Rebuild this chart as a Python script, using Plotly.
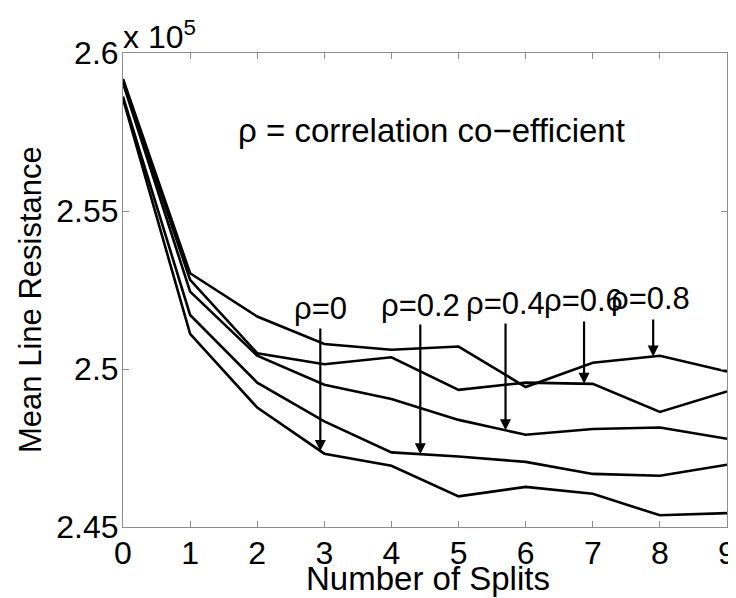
import numpy as np
import plotly.graph_objects as go

# ---- data (values in units of 1e5) ----
splits = [0, 1, 2, 3, 4, 5, 6, 7, 8, 9]
rho_labels = ["ρ=0", "ρ=0.2", "ρ=0.4", "ρ=0.6", "ρ=0.8"]
res_rho0 = [2.5855, 2.5111, 2.4878, 2.4732, 2.4694, 2.4597, 2.4627, 2.4605, 2.4537, 2.4544]
res_rho02 = [2.5862, 2.5171, 2.4957, 2.4834, 2.4736, 2.4723, 2.4706, 2.4668, 2.4662, 2.4697]
res_rho04 = [2.5905, 2.5245, 2.5042, 2.4950, 2.4905, 2.4839, 2.4792, 2.4810, 2.4815, 2.4779]
res_rho06 = [2.5912, 2.5282, 2.5050, 2.5015, 2.5037, 2.4934, 2.4957, 2.4953, 2.4864, 2.4929]
res_rho08 = [2.5918, 2.5303, 2.5166, 2.5079, 2.5061, 2.5071, 2.4943, 2.5020, 2.5042, 2.4992]
series = [res_rho0, res_rho02, res_rho04, res_rho06, res_rho08]
y_ticks = [2.45, 2.5, 2.55, 2.6]
y_tick_text = ["2.45", "2.5", "2.55", "2.6"]
x_ticks = list(range(10))

# ---- layout constants (page has an 8px body margin) ----
OFF = 8
W, H = 736 - OFF, 598 - OFF
PL, PR, PT, PB = 123, 727, 53, 527          # plot area in page pixels
ML, MR, MT, MB = PL - OFF, 736 - PR, PT - OFF, 598 - PB
PW, PH = PR - PL, PB - PT
FONT = "Liberation Sans, Arial, Helvetica, sans-serif"

def px(xp):
    return (xp - PL) / PW

def py(yp):
    return (PB - yp) / PH

fig = go.Figure()
for s in series:
    fig.add_trace(go.Scatter(x=splits, y=s, mode="lines",
                             line=dict(color="black", width=2.6),
                             showlegend=False, hoverinfo="skip"))

axis_common = dict(showline=True, linecolor="#8c8c8c", linewidth=1, mirror="ticks",
                   ticks="inside", ticklen=6, tickcolor="#8c8c8c", tickwidth=1,
                   showgrid=False, zeroline=False, automargin=False,
                   tickfont=dict(family=FONT, size=32, color="black"))

fig.update_xaxes(range=[0, 9], tickvals=x_ticks, ticklabelstandoff=-2, **axis_common)
fig.update_yaxes(range=[2.45, 2.6], tickvals=y_ticks, ticktext=y_tick_text,
                 ticklabelstandoff=-3, **axis_common)

annotations = []
# axis titles
annotations.append(dict(text="Number of Splits", x=px(428), y=py(578), xref="paper", yref="paper",
                        showarrow=False, font=dict(family=FONT, size=33, color="black"),
                        xanchor="center", yanchor="middle"))
annotations.append(dict(text="Mean Line Resistance", x=px(30), y=py(300), xref="paper", yref="paper",
                        showarrow=False, textangle=-90, font=dict(family=FONT, size=31, color="black"),
                        xanchor="center", yanchor="middle"))
# exponent
annotations.append(dict(text="x 10<sup>5</sup>", x=px(121), y=py(57), xref="paper", yref="paper",
                        showarrow=False, font=dict(family=FONT, size=32, color="black"),
                        xanchor="left", yanchor="bottom"))
# note
annotations.append(dict(text="ρ = correlation co\u2212efficient", x=px(236), y=py(130),
                        xref="paper", yref="paper", showarrow=False,
                        font=dict(family=FONT, size=33, color="black"),
                        xanchor="left", yanchor="middle"))

# rho labels and arrows
label_left_px = [292, 379, 464, 542, 609]
label_mid_py = [308, 305, 303, 300, 298]
arrow_x = [2.94, 4.43, 5.70, 6.87, 7.90]
arrow_tail_py = [327, 323, 322, 320, 318]
for lab, lx, ly, axx, tpy, s in zip(rho_labels, label_left_px, label_mid_py, arrow_x, arrow_tail_py, series):
    annotations.append(dict(text=lab, x=px(lx), y=py(ly), xref="paper", yref="paper",
                            showarrow=False, font=dict(family=FONT, size=31, color="black"),
                            xanchor="left", yanchor="middle"))
    tip = float(np.interp(axx, splits, s))
    tail = 2.6 - (tpy - PT) / PH * 0.15
    annotations.append(dict(text="", x=axx, y=tip, xref="x", yref="y",
                            ax=axx, ay=tail, axref="x", ayref="y",
                            showarrow=True, arrowhead=2, arrowsize=1.0, arrowwidth=2.2,
                            arrowcolor="black", standoff=0))

fig.update_layout(width=W, height=H, margin=dict(l=ML, r=MR, t=MT, b=MB, autoexpand=False),
                  paper_bgcolor="white", plot_bgcolor="white",
                  annotations=annotations)

fig.write_html("out.html")
